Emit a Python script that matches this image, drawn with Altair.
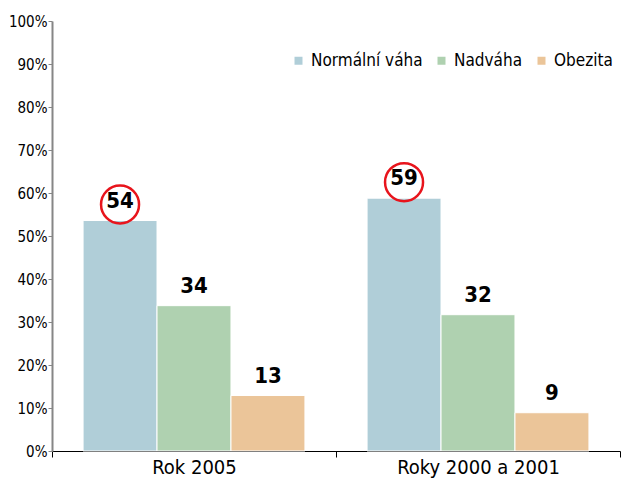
import altair as alt
import pandas as pd

categories = ["Rok 2005", "Roky 2000 a 2001"]
series = ["Normální váha", "Nadváha", "Obezita"]
values_2005 = [53.6, 33.8, 12.9]
values_2000 = [58.8, 31.7, 8.9]
labels_2005 = ["54", "34", "13"]
labels_2000 = ["59", "32", "9"]
colors = ["#B0CED8", "#AFD1B0", "#EBC599"]
highlighted = ["Normální váha"]

rows = []
for cat, vals, labs in [(categories[0], values_2005, labels_2005), (categories[1], values_2000, labels_2000)]:
    for s, v, l in zip(series, vals, labs):
        rows.append({"kat": cat, "serie": s, "hodnota": v, "popisek": l})
df = pd.DataFrame(rows)

FONT = "'DejaVu Sans Condensed', 'Liberation Sans', sans-serif"

x_enc = alt.X("kat:N", sort=categories, title=None,
              scale=alt.Scale(paddingInner=0, paddingOuter=0),
              axis=alt.Axis(labelAngle=0, tickBand="extent", domainColor="#000000",
                            tickColor="#000000", tickSize=6, labelFontSize=20,
                            labelColor="#000000", labelPadding=0, labelFont=FONT))
xo_enc = alt.XOffset("serie:N", sort=series,
                     scale=alt.Scale(paddingInner=0, paddingOuter=0.42))
y_enc = alt.Y("hodnota:Q", title=None,
              scale=alt.Scale(domain=[0, 100], nice=False),
              axis=alt.Axis(values=list(range(0, 101, 10)), labelExpr="datum.value + '%'",
                            grid=False, domainColor="#868686", domainWidth=2,
                            tickColor="#868686", tickSize=4, labelFontSize=15,
                            labelColor="#000000", labelFont=FONT, labelPadding=1))

base = alt.Chart(df)

bars = base.mark_bar(stroke="white", strokeWidth=1).encode(
    x=x_enc, xOffset=xo_enc, y=y_enc,
    color=alt.Color("serie:N", sort=series, title=None,
                    scale=alt.Scale(domain=series, range=colors),
                    legend=alt.Legend(orient="none", legendX=238, legendY=31,
                                      direction="horizontal", symbolType="square",
                                      symbolSize=64, symbolStrokeWidth=0,
                                      labelFontSize=17, labelFont=FONT, labelLimit=300,
                                      labelColor="#000000", labelOffset=4,
                                      columnPadding=10))
)

text = base.mark_text(dy=-20, fontSize=22, fontWeight="bold", font=FONT, color="#000000").encode(
    x=alt.X("kat:N", sort=categories), xOffset=alt.XOffset("serie:N", sort=series),
    y="hodnota:Q", text="popisek:N"
)

circles = base.transform_filter(
    alt.FieldOneOfPredicate(field="serie", oneOf=highlighted)
).mark_point(shape="circle", size=1444, filled=False, stroke="#E8141C", strokeWidth=2.5, opacity=1).encode(
    x=alt.X("kat:N", sort=categories), xOffset=alt.XOffset("serie:N", sort=series),
    y="hodnota:Q", yOffset=alt.value(-16)
)

chart = alt.layer(bars, text, circles).properties(
    width=568, height=430,
    autosize=alt.AutoSizeParams(type="none"),
    padding={"left": 44, "top": 13, "right": 4, "bottom": 28},
).configure_view(stroke=None)

chart.save("out.html", embed_options={"renderer": "svg", "actions": False})
